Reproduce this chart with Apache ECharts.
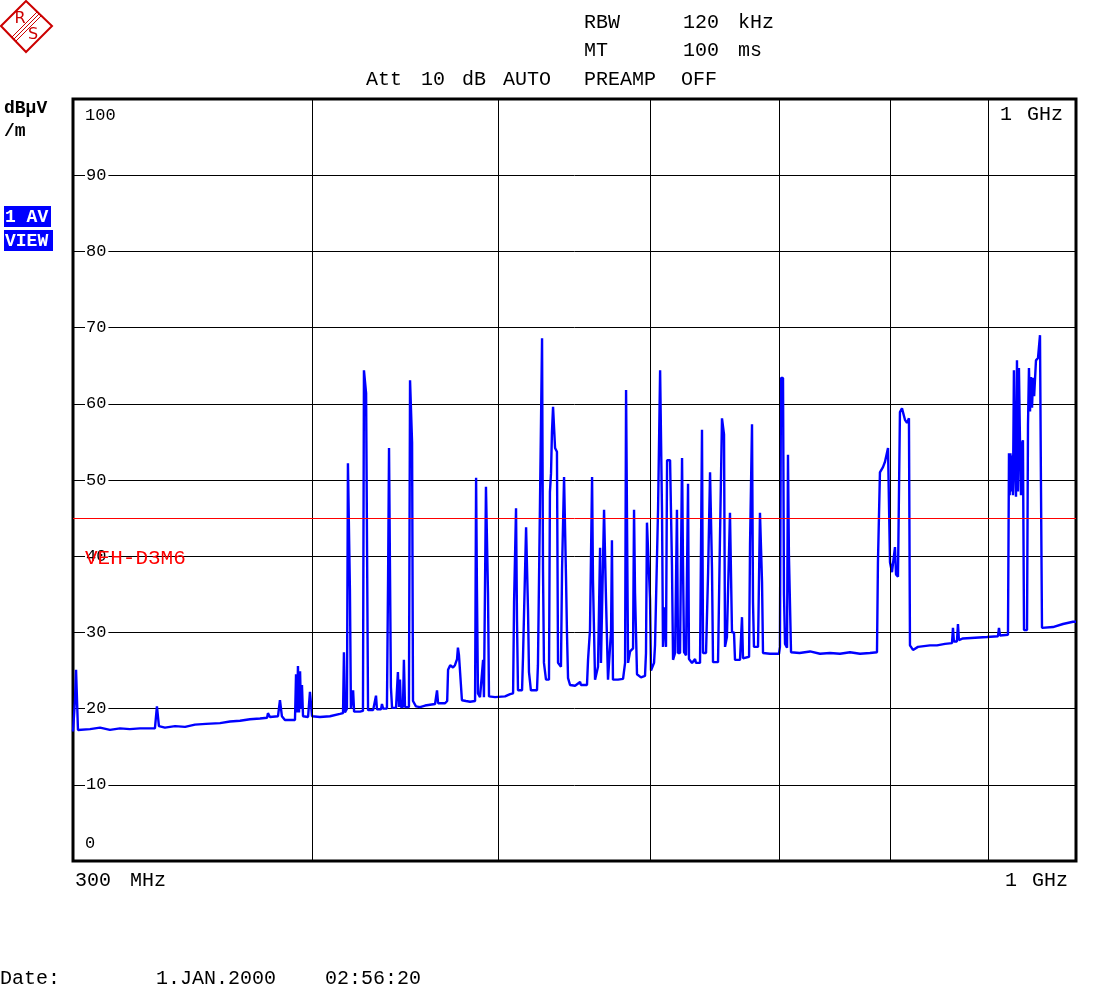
<!DOCTYPE html>
<html lang="en">
  <head>
    <meta charset="UTF-8" />
    <title>Spectrum 300 MHz - 1 GHz</title>
    <style>
      html, body { margin: 0; padding: 0; background: #fff; }
      #main { width: 1120px; height: 986px; }
    </style>
  </head>
  <body>
    <script src="https://cdn.jsdelivr.net/npm/echarts@6/dist/echarts.min.js"></script>
    <div id="main"></div>
    <script>
      // trace: frequency (MHz) / level (dBuV/m)
      const freqMHz = [
        300.0, 300.7, 301.1, 301.4, 301.8, 302.5, 306.2, 309.9, 313.6, 317.4, 321.2, 325.1,
        331.0, 331.8, 332.6, 335.0, 339.1, 343.2, 347.3, 351.9, 357.9, 362.2, 366.6, 371.0,
        375.5, 378.7, 379.1, 380.0, 383.7, 384.6, 385.5, 386.9, 391.6, 392.1, 392.6, 393.0,
        393.5, 394.0, 394.4, 394.9, 395.4, 396.3, 397.8, 398.7, 399.7, 403.5, 408.4, 413.3,
        414.85, 415.3, 415.8, 416.8, 417.3, 417.8, 418.3, 418.8, 419.9, 420.4, 423.4, 424.9,
        425.4, 425.9, 426.5, 427.0, 427.5, 430.1, 431.6, 432.1, 434.2, 434.7, 435.3, 437.3,
        437.9, 438.4, 438.9, 439.4, 440.0, 442.1, 443.1, 443.7, 444.2, 444.7, 445.8, 446.3,
        446.9, 449.0, 449.6, 450.1, 450.7, 451.2, 452.8, 455.0, 457.8, 460.5, 463.3, 464.4,
        465.0, 468.9, 470.1, 470.6, 471.8, 473.4, 474.5, 475.7, 476.2, 476.8, 477.9, 478.5,
        480.8, 483.2, 486.1, 486.7, 487.2, 487.8, 489.0, 490.8, 491.3, 492.5, 493.1, 493.7,
        494.3, 497.9, 503.9, 507.0, 508.8, 509.4, 510.6, 511.2, 511.8, 514.3, 514.9, 516.8,
        517.4, 518.0, 518.6, 519.8, 523.6, 524.2, 525.5, 526.8, 527.4, 528.0, 529.3, 531.2,
        531.8, 532.5, 533.1, 533.8, 534.4, 535.1, 536.3, 537.0, 538.9, 539.6, 540.9, 541.5,
        542.2, 542.8, 543.5, 544.8, 548.1, 551.4, 552.0, 556.0, 556.7, 558.0, 559.4, 560.0,
        561.4, 563.4, 564.8, 565.4, 567.5, 568.2, 568.8, 570.2, 572.3, 572.9, 573.6, 577.1,
        580.6, 582.0, 582.7, 583.4, 584.1, 585.5, 587.6, 588.3, 589.0, 590.4, 593.2, 596.1,
        596.8, 597.5, 598.2, 599.7, 600.4, 602.6, 603.3, 604.7, 605.5, 607.0, 607.7, 608.4,
        609.1, 610.6, 611.3, 612.1, 614.3, 615.7, 616.5, 618.0, 619.4, 620.2, 621.7, 623.2,
        623.9, 624.7, 626.2, 627.7, 628.4, 630.7, 633.0, 633.7, 636.8, 638.3, 639.1, 641.4,
        643.0, 644.5, 645.2, 646.0, 646.8, 650.7, 652.2, 653.8, 654.6, 655.4, 656.2, 657.7,
        658.5, 660.1, 660.9, 661.7, 663.3, 664.1, 668.1, 669.7, 670.5, 675.4, 676.2, 677.8,
        678.6, 679.4, 682.7, 684.3, 685.1, 686.0, 686.8, 692.6, 700.1, 700.9, 701.8, 703.5,
        704.3, 705.2, 706.9, 707.7, 708.5, 710.3, 717.6, 726.7, 735.4, 744.3, 753.3, 762.4,
        771.6, 780.9, 787.5, 788.4, 790.3, 793.2, 795.1, 797.0, 798.0, 798.9, 799.9, 801.8,
        803.7, 804.7, 805.7, 807.6, 809.5, 811.5, 812.5, 814.4, 816.4, 818.3, 819.3, 822.3,
        827.2, 839.2, 846.3, 854.5, 861.7, 862.7, 863.7, 866.8, 867.9, 868.9, 873.1, 885.8,
        898.6, 910.6, 911.7, 912.8, 921.6, 922.7, 923.5, 924.3, 925.0, 926.0, 927.1, 928.2,
        929.3, 930.5, 931.6, 932.7, 933.8, 935.0, 936.1, 937.2, 938.3, 939.5, 942.9, 944.0,
        945.1, 946.3, 947.4, 948.6, 949.7, 951.0, 953.1, 955.4, 957.7, 958.8, 960.0, 972.7,
        984.5, 996.4, 1000.0
      ];
      const levelDb = [
        17.0, 21.0, 25.1, 25.1, 17.2, 17.4, 17.3, 17.5, 17.2, 17.4, 17.3, 17.4,
        17.4, 20.3, 17.7, 17.5, 17.7, 17.6, 17.9, 18.0, 18.1, 18.3, 18.4, 18.6,
        18.7, 18.8, 19.4, 18.9, 19.0, 21.1, 19.0, 18.5, 18.5, 24.5, 19.5, 25.6,
        19.5, 24.9, 20.0, 23.1, 19.0, 18.9, 18.9, 22.2, 19.0, 18.9, 19.0, 19.3,
        19.4, 27.4, 19.5, 20.0, 52.2, 52.2, 35.6, 20.0, 22.4, 19.6, 19.6, 19.7,
        64.4, 64.4, 61.4, 61.4, 19.8, 19.8, 21.7, 19.9, 19.9, 20.6, 20.0, 20.0,
        37.1, 54.2, 54.2, 22.8, 20.1, 20.1, 24.8, 20.2, 23.8, 20.2, 20.2, 26.4,
        20.2, 20.2, 63.1, 63.1, 54.9, 21.0, 20.3, 20.2, 20.4, 20.5, 20.6, 22.4,
        20.7, 20.7, 21.0, 25.1, 25.7, 25.4, 25.7, 26.5, 28.0, 27.0, 27.0, 21.1,
        21.0, 20.9, 21.0, 50.3, 35.6, 22.0, 21.5, 26.4, 21.5, 49.1, 49.1, 35.2,
        21.6, 21.5, 21.6, 21.9, 22.0, 34.0, 46.3, 31.4, 22.4, 22.4, 26.8, 43.8,
        43.8, 32.9, 24.8, 22.4, 22.4, 25.7, 47.1, 68.6, 38.2, 26.0, 23.8, 23.8,
        48.4, 50.9, 56.3, 59.6, 59.6, 54.2, 53.7, 26.0, 25.5, 38.2, 50.4, 50.4,
        36.9, 29.9, 24.0, 23.1, 23.0, 23.5, 23.1, 23.1, 26.4, 30.3, 50.4, 36.9,
        23.8, 25.5, 41.1, 26.0, 46.1, 46.1, 34.6, 23.8, 30.3, 42.1, 23.8, 23.8,
        23.9, 26.0, 61.8, 61.8, 26.0, 27.5, 27.9, 46.1, 35.2, 24.5, 24.1, 24.3,
        27.3, 44.4, 44.4, 34.4, 25.0, 26.0, 28.3, 28.3, 46.1, 64.4, 64.4, 45.8,
        28.1, 33.3, 28.1, 52.6, 52.6, 38.8, 26.4, 27.3, 46.1, 27.3, 27.3, 52.9,
        39.1, 27.4, 27.0, 49.5, 26.5, 26.0, 26.5, 26.0, 26.0, 56.6, 27.3, 27.3,
        37.9, 51.0, 51.0, 38.4, 26.1, 26.1, 42.1, 58.1, 58.1, 56.0, 28.1, 29.4,
        29.4, 45.7, 45.7, 30.0, 30.0, 26.4, 26.4, 32.0, 26.6, 26.8, 41.7, 57.3,
        34.0, 28.1, 28.1, 45.7, 45.7, 36.6, 27.3, 27.2, 27.2, 28.1, 63.4, 63.4,
        35.0, 28.5, 28.0, 53.3, 40.2, 27.4, 27.3, 27.5, 27.2, 27.3, 27.2, 27.4,
        27.2, 27.3, 27.4, 39.1, 51.0, 51.7, 52.4, 52.6, 54.2, 47.0, 39.2, 37.9,
        37.9, 41.2, 37.6, 37.3, 58.9, 59.4, 59.2, 57.9, 57.5, 58.1, 28.3, 27.7,
        28.1, 28.3, 28.3, 28.5, 28.6, 30.6, 28.8, 28.8, 31.1, 29.0, 29.2, 29.3,
        29.4, 29.5, 30.6, 29.6, 29.7, 53.5, 48.0, 53.5, 48.5, 53.2, 48.0, 64.4,
        52.0, 47.8, 65.7, 48.5, 64.7, 54.9, 48.0, 54.8, 55.2, 30.3, 30.3, 57.2,
        64.7, 59.0, 63.5, 59.5, 63.4, 61.0, 65.7, 66.0, 69.0, 49.6, 30.6, 30.7,
        31.1, 31.4, 31.4
      ];

      const gridFreqs = [400, 500, 600, 700, 800, 900];
      const limitLevel = 45;
      const limitName = 'VEH-D3M6';
      const yMin = 0;
      const yMax = 100;
      const yStep = 10;

      const mono = 'Liberation Mono';
      const txt = (x, y, s, extra) => ({
        type: 'text',
        x, y,
        z: 100,
        style: Object.assign({
          text: s, fill: '#000', font: '20px "Liberation Mono"',
          textVerticalAlign: 'middle', verticalAlign: 'middle'
        }, extra || {})
      });

      const chart = echarts.init(document.getElementById('main'))
      chart.setOption({
        animation: false,
        backgroundColor: '#fff',
        grid: {
          left: 73, top: 99, right: 44, bottom: 125,
          show: true, borderColor: '#000', borderWidth: 3,
          backgroundColor: 'transparent'
        },
        xAxis: {
          type: 'log',
          logBase: 10,
          min: 300,
          max: 1000,
          axisLine: { show: false },
          axisTick: { show: false },
          axisLabel: { show: false },
          splitLine: { show: false }
        },
        yAxis: {
          type: 'value',
          min: yMin,
          max: yMax,
          interval: yStep,
          axisLine: { show: false },
          axisTick: { show: false },
          splitLine: { lineStyle: { color: '#000', width: 1 } },
          axisLabel: {
            inside: true,
            margin: 12,
            showMinLabel: false,
            showMaxLabel: false,
            color: '#000',
            fontFamily: mono,
            fontSize: 17,
            backgroundColor: '#fff',
            padding: [0, 2, 0, 1]
          }
        },
        series: [
          {
            // vertical division lines of the log frequency axis
            type: 'line',
            z: 1,
            data: [],
            markLine: {
              silent: true,
              symbol: 'none',
              label: { show: false },
              lineStyle: { color: '#000', width: 1, type: 'solid' },
              data: gridFreqs.map(f => ({ xAxis: f }))
            }
          },
          {
            name: 'trace',
            type: 'line',
            z: 2,
            showSymbol: false,
            symbol: 'none',
            lineStyle: { color: '#0000ff', width: 2.4 },
            data: freqMHz.map((f, i) => [f, levelDb[i]])
          },
          {
            type: 'line',
            z: 3,
            data: [],
            markLine: {
              silent: true,
              symbol: 'none',
              label: { show: false },
              lineStyle: { color: '#ff0000', width: 1, type: 'solid' },
              data: [{ yAxis: limitLevel }]
            }
          }
        ],
        graphic: {
          elements: [
            // R&S logo
            {
              type: 'group', x: 0, y: 0,
              children: [
                { type: 'polygon', shape: { points: [[26, 1], [52, 26], [26, 52], [1, 26]] },
                  style: { fill: 'none', stroke: '#cc0000', lineWidth: 2 } },
                { type: 'line', shape: { x1: 11.5, y1: 37.5, x2: 37.5, y2: 11.5 }, style: { stroke: '#cc0000', lineWidth: 1 } },
                { type: 'line', shape: { x1: 13.5, y1: 39.5, x2: 39.5, y2: 13.5 }, style: { stroke: '#cc0000', lineWidth: 1 } },
                { type: 'line', shape: { x1: 15.5, y1: 41.5, x2: 41.5, y2: 15.5 }, style: { stroke: '#cc0000', lineWidth: 1 } },
                { type: 'text', x: 20, y: 19, style: { text: 'R', fill: '#cc0000', font: '16px "DejaVu Sans"', textAlign: 'center', textVerticalAlign: 'middle', verticalAlign: 'middle' } },
                { type: 'text', x: 33, y: 35, style: { text: 'S', fill: '#cc0000', font: '16px "DejaVu Sans"', textAlign: 'center', textVerticalAlign: 'middle', verticalAlign: 'middle' } }
              ]
            },
            // header
            txt(584, 23, 'RBW'),
            txt(683, 23, '120'),
            txt(738, 23, 'kHz'),
            txt(584, 51, 'MT'),
            txt(683, 51, '100'),
            txt(738, 51, 'ms'),
            txt(366, 80, 'Att'),
            txt(421, 80, '10'),
            txt(462, 80, 'dB'),
            txt(503, 80, 'AUTO'),
            txt(584, 80, 'PREAMP'),
            txt(681, 80, 'OFF'),
            // unit
            txt(4, 108, 'dB\u00b5V', { font: 'bold 18px "Liberation Mono"' }),
            txt(4, 131, '/m', { font: 'bold 18px "Liberation Mono"' }),
            // trace info boxes
            { type: 'rect', shape: { x: 4, y: 206, width: 47, height: 21 }, style: { fill: '#0000ff' } },
            txt(5, 217, '1 AV', { fill: '#fff', font: 'bold 18px "Liberation Mono"' }),
            { type: 'rect', shape: { x: 4, y: 230, width: 49, height: 21 }, style: { fill: '#0000ff' } },
            txt(5, 241, 'VIEW', { fill: '#fff', font: 'bold 18px "Liberation Mono"' }),
            // y range ends
            txt(85, 115, String(yMax), { font: '17px "Liberation Mono"' }),
            txt(85, 843, String(yMin), { font: '17px "Liberation Mono"' }),
            txt(1000, 115, '1'),
            txt(1027, 115, 'GHz'),
            // limit line label
            txt(85, 558, limitName, { fill: '#ff0000', font: '21px "Liberation Mono"' }),
            // frequency span
            txt(75, 881, '300'),
            txt(130, 881, 'MHz'),
            txt(1005, 881, '1'),
            txt(1032, 881, 'GHz'),
            // date
            txt(0, 979, 'Date:'),
            txt(156, 979, '1.JAN.2000'),
            txt(325, 979, '02:56:20')
          ]
        }
      })
    </script>
  </body>
</html>
